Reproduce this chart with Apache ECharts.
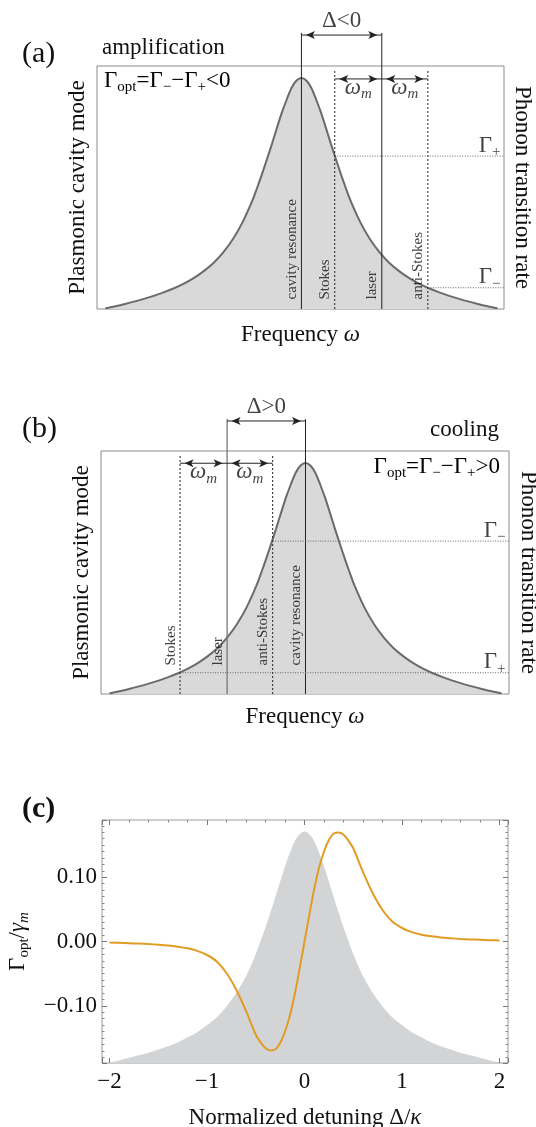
<!DOCTYPE html>
<html>
<head>
<meta charset="utf-8">
<script src="https://cdn.jsdelivr.net/npm/echarts@6/dist/echarts.min.js"></script>
<style>
  html, body { margin: 0; padding: 0; background: #fff; }
  #chart { width: 536px; height: 1127px; }
</style>
</head>
<body>
<div id="chart"></div>
<script>
"use strict";

const FONT = "'Liberation Serif', 'Times New Roman', serif";

// frequency / detuning grid, in units of kappa
const xGrid = [-2, -1.9, -1.8, -1.7, -1.6, -1.5, -1.4, -1.3, -1.2, -1.1, -1, -0.9, -0.8, -0.7, -0.6, -0.5,
  -0.45, -0.4, -0.35, -0.3, -0.25, -0.2, -0.15, -0.1, -0.05, 0, 0.05, 0.1, 0.15, 0.2, 0.25, 0.3, 0.35,
  0.4, 0.45, 0.5, 0.6, 0.7, 0.8, 0.9, 1, 1.1, 1.2, 1.3, 1.4, 1.5, 1.6, 1.7, 1.8, 1.9, 2];

// (a),(b) plasmonic cavity mode, peak = 1
const cavityMode = [0.003, 0.012, 0.022, 0.033, 0.045, 0.058, 0.073, 0.09, 0.11, 0.134, 0.163, 0.198, 0.244,
  0.302, 0.376, 0.47, 0.527, 0.587, 0.651, 0.716, 0.784, 0.85, 0.907, 0.958, 0.989, 1, 0.989, 0.958, 0.907,
  0.85, 0.784, 0.716, 0.651, 0.587, 0.527, 0.47, 0.376, 0.302, 0.244, 0.198, 0.163, 0.134, 0.11, 0.09,
  0.073, 0.058, 0.045, 0.033, 0.022, 0.012, 0.003];

// (c) grey cavity shading and Gamma_opt / gamma_m
const modeShade = [-0.188, -0.185, -0.181, -0.177, -0.173, -0.168, -0.163, -0.157, -0.149, -0.141, -0.13,
  -0.118, -0.101, -0.08, -0.054, -0.02, 0.001, 0.022, 0.045, 0.069, 0.093, 0.117, 0.138, 0.156, 0.167,
  0.171, 0.167, 0.156, 0.138, 0.117, 0.093, 0.069, 0.045, 0.022, 0.001, -0.02, -0.054, -0.08, -0.101,
  -0.118, -0.13, -0.141, -0.149, -0.157, -0.163, -0.168, -0.173, -0.177, -0.181, -0.185, -0.188];
const gammaOpt = [-0.0017, -0.0021, -0.0027, -0.0033, -0.004, -0.005, -0.0062, -0.008, -0.0105, -0.0145,
  -0.021, -0.031, -0.049, -0.075, -0.108, -0.145, -0.157, -0.166, -0.1695, -0.168, -0.158, -0.14, -0.115,
  -0.082, -0.042, 0, 0.042, 0.082, 0.115, 0.14, 0.158, 0.168, 0.1695, 0.166, 0.157, 0.145, 0.108, 0.075,
  0.049, 0.031, 0.021, 0.0145, 0.0105, 0.008, 0.0062, 0.005, 0.004, 0.0033, 0.0027, 0.0021, 0.0017];

// marker lines: cavity resonance, Stokes, laser, anti-Stokes
const markNames = ["cavity resonance", "Stokes", "laser", "anti-Stokes"];
const marksA = [0, 0.34, 0.82, 1.29];
const marksB = [0, -1.28, -0.8, -0.335];
// Gamma_+ (at Stokes) and Gamma_- (at anti-Stokes)
const ratesA = [0.662, 0.092];
const ratesB = [0.092, 0.662];

// (c) tick values
const xTicksC = [-2, -1, 0, 1, 2];
const yTicksC = [-0.1, 0, 0.1];

const rich = {
  n: { fontFamily: FONT, fontSize: 23, lineHeight: 24, color: "#111" },
  s: { fontFamily: FONT, fontSize: 15, lineHeight: 15, padding: [13, 0, 0, 0], color: "#111" },
  i: { fontFamily: FONT, fontSize: 23, lineHeight: 24, fontStyle: "italic", color: "#111" },
  si: { fontFamily: FONT, fontSize: 15, lineHeight: 15, padding: [13, 0, 0, 0], fontStyle: "italic", color: "#111" }
};

function pts(xs, ys) {
  return xs.map((x, i) => [x, ys[i]]);
}

function seg(xi, yi, data, color, width, type) {
  return {
    type: "line", xAxisIndex: xi, yAxisIndex: yi, data: data, symbol: "none", clip: false,
    silent: true, z: 3, lineStyle: { color: color, width: width, type: type || "solid" }
  };
}

function arrow(xi, yi, x1, x2, y) {
  return {
    type: "line", xAxisIndex: xi, yAxisIndex: yi, clip: false, silent: true, z: 4,
    showSymbol: true, symbol: "arrow", symbolSize: [6, 9],
    lineStyle: { color: "#222", width: 1 }, itemStyle: { color: "#222" },
    data: [
      { value: [x1, y], symbolRotate: 90, symbolOffset: [4.5, 0] },
      { value: [x2, y], symbolRotate: -90, symbolOffset: [-4.5, 0] }
    ]
  };
}

function labels(xi, yi, items) {
  return {
    type: "scatter", xAxisIndex: xi, yAxisIndex: yi, symbolSize: 1, clip: false, silent: true, z: 6,
    itemStyle: { color: "rgba(0,0,0,0)" }, data: items
  };
}

// one sketch panel, (a) or (b)
function panel(xi, yl, marks, rates, xMax, lay) {
  let s = [];
  s.push({
    type: "line", xAxisIndex: xi, yAxisIndex: yl, data: pts(xGrid, cavityMode), symbol: "none",
    smooth: 0.3, silent: true, z: 1,
    lineStyle: { color: "#6b6b6b", width: 2 }, areaStyle: { color: "#d9d9d9", opacity: 1 }
  });
  s.push(seg(xi, yl, [[marks[0], 0], [marks[0], lay.top]], "#222", 1));
  s.push(seg(xi, yl, [[marks[2], 0], [marks[2], lay.top]], lay.laserColor, lay.laserWidth));
  s.push(seg(xi, yl, [[marks[1], 0], [marks[1], lay.dashTop]], "#222", 1, [2, 2]));
  s.push(seg(xi, yl, [[marks[3], 0], [marks[3], lay.dashTop]], "#222", 1, [2, 2]));
  s.push(seg(xi, yl, [[marks[1], rates[0]], [xMax, rates[0]]], "#666", 1, [1, 1.5]));
  s.push(seg(xi, yl, [[marks[3], rates[1]], [xMax, rates[1]]], "#666", 1, [1, 1.5]));
  s.push(arrow(xi, yl, Math.min(marks[0], marks[2]), Math.max(marks[0], marks[2]), lay.deltaY));
  let lo = Math.min(marks[1], marks[3]);
  let hi = Math.max(marks[1], marks[3]);
  s.push(arrow(xi, yl, lo, marks[2], lay.omegaY));
  s.push(arrow(xi, yl, marks[2], hi, lay.omegaY));

  let items = markNames.map((name, i) => ({
    value: [marks[i], 0],
    label: {
      show: true, formatter: name, rotate: 90, position: [-1.5, -lay.lift], align: "left",
      verticalAlign: "bottom", fontFamily: FONT, fontSize: 15, color: "#111"
    }
  }));
  items.push({
    value: [(marks[0] + marks[2]) / 2, lay.deltaY],
    label: { show: true, formatter: lay.delta, position: "top", distance: 2, fontFamily: FONT, fontSize: 23, color: "#111" }
  });
  [[lo, marks[2]], [marks[2], hi]].forEach(p => {
    items.push({
      value: [(p[0] + p[1]) / 2, lay.omegaY],
      label: { show: true, formatter: "{i|ω}{si|m}", rich: rich, position: [0.5, -2.5], align: "center", verticalAlign: "top" }
    });
  });
  items.push({
    value: [xMax, rates[0]],
    label: { show: true, formatter: "{n|Γ}{s|+}", rich: rich, position: [-3, 2], align: "right", verticalAlign: "bottom" }
  });
  items.push({
    value: [xMax, rates[1]],
    label: { show: true, formatter: "{n|Γ}{s|−}", rich: rich, position: [-3, 2], align: "right", verticalAlign: "bottom" }
  });
  s.push(labels(xi, yl, items));
  return s;
}

function sketchX(grid, min, max, gap) {
  return {
    gridIndex: grid, type: "value", min: min, max: max,
    axisLine: { show: false, onZero: false }, axisTick: { show: false }, axisLabel: { show: false }, splitLine: { show: false },
    name: "{n|Frequency }{i|ω}", nameLocation: "middle", nameGap: gap, nameTextStyle: { rich: rich }
  };
}

function sketchY(grid, pos, name, rot, gap) {
  return {
    gridIndex: grid, type: "value", position: pos, min: 0, max: 1.052,
    axisLine: { show: false, onZero: false }, axisTick: { show: false }, axisLabel: { show: false }, splitLine: { show: false },
    name: name, nameLocation: "middle", nameRotate: rot, nameGap: gap,
    nameTextStyle: { fontFamily: FONT, fontSize: 23, color: "#111" }
  };
}

function frameAxis(grid, pos, min, max, split, showLabels, fmt) {
  return {
    gridIndex: grid, type: "value", position: pos, min: min, max: max,
    axisLine: { show: false, onZero: false }, splitLine: { show: false },
    axisTick: { show: true, inside: true, length: 5, lineStyle: { color: "#777", width: 1 } },
    minorTick: { show: true, splitNumber: split, length: 2.5, lineStyle: { color: "#888", width: 1 } },
    axisLabel: {
      show: showLabels, showMinLabel: false, showMaxLabel: false, margin: 7,
      fontFamily: FONT, fontSize: 23, color: "#111", formatter: fmt
    }
  };
}

const fmtX = v => xTicksC.indexOf(v) < 0 ? "" : (v < 0 ? "−" : "") + Math.abs(v);
const fmtY = v => yTicksC.indexOf(v) < 0 ? "" : (v < 0 ? "−" : "") + Math.abs(v).toFixed(2);

const xMaxA = 2.067;
const xMaxB = 2.077;

const layA = { top: 1.195, dashTop: 1.035, deltaY: 1.186, omegaY: 0.996, lift: 9, delta: "Δ<0", laserColor: "#222", laserWidth: 1 };
const layB = { top: 1.19, dashTop: 1.035, deltaY: 1.182, omegaY: 0.999, lift: 28, delta: "Δ>0", laserColor: "#777", laserWidth: 1.3 };

const xC = frameAxis(2, "bottom", -2.077, 2.087, 5, true, fmtX);
const xCTop = frameAxis(2, "top", -2.077, 2.087, 5, false, fmtX);
const yC = frameAxis(2, "left", -0.189, 0.189, 10, true, fmtY);
yC.axisLabel.margin = 5;
yC.name = "{n|Γ}{s|opt}{n|/}{i|γ}{si|m}";
yC.nameLocation = "middle";
yC.nameGap = 72;
yC.nameTextStyle = { rich: rich };
const yCRight = frameAxis(2, "right", -0.189, 0.189, 10, false, fmtY);
xC.name = "{n|Normalized detuning Δ/}{i|κ}";
xC.nameLocation = "middle";
xC.nameGap = 43;
xC.nameTextStyle = { rich: rich };

const gridStyle = { show: true, borderColor: "#8a8a8a", borderWidth: 1, backgroundColor: "transparent", containLabel: false, outerBoundsMode: "none" };

const chart = echarts.init(document.getElementById("chart"));

const option = {
  animation: false,
  backgroundColor: "#fff",
  textStyle: { fontFamily: FONT },
  grid: [
    Object.assign({ left: 97, top: 66, width: 407, height: 243 }, gridStyle),
    Object.assign({ left: 101, top: 451, width: 408, height: 243 }, gridStyle),
    Object.assign({ left: 102, top: 820, width: 406, height: 243 }, gridStyle, { borderColor: "#999" })
  ],
  xAxis: [
    sketchX(0, -2.086, xMaxA, 14),
    sketchX(1, -2.087, xMaxB, 11),
    xC, xCTop
  ],
  yAxis: [
    sketchY(0, "left", "Plasmonic cavity mode", 90, 8),
    sketchY(0, "right", "Phonon transition rate", -90, 7),
    sketchY(1, "left", "Plasmonic cavity mode", 90, 8),
    sketchY(1, "right", "Phonon transition rate", -90, 8),
    yC, yCRight
  ],
  graphic: [
    { type: "text", x: 22, y: 54, style: { text: "(a)", fontFamily: FONT, fontSize: 30, fill: "#111", align: "left", verticalAlign: "middle" } },
    { type: "text", x: 102, y: 48, style: { text: "amplification", fontFamily: FONT, fontSize: 23, fill: "#111", align: "left", verticalAlign: "middle" } },
    { type: "text", x: 104, y: 81, style: { text: "{n|Γ}{s|opt}{n|=Γ}{s|−}{n|−Γ}{s|+}{n|<0}", rich: rich, align: "left", verticalAlign: "middle" } },
    { type: "text", x: 22, y: 429, style: { text: "(b)", fontFamily: FONT, fontSize: 30, fill: "#111", align: "left", verticalAlign: "middle" } },
    { type: "text", x: 499, y: 430, style: { text: "cooling", fontFamily: FONT, fontSize: 23, fill: "#111", align: "right", verticalAlign: "middle" } },
    { type: "text", x: 500, y: 467, style: { text: "{n|Γ}{s|opt}{n|=Γ}{s|−}{n|−Γ}{s|+}{n|>0}", rich: rich, align: "right", verticalAlign: "middle" } },
    { type: "text", x: 22, y: 809, style: { text: "(c)", fontFamily: FONT, fontSize: 30, fontWeight: "bold", fill: "#111", align: "left", verticalAlign: "middle" } }
  ],
  series: [].concat(
    panel(0, 0, marksA, ratesA, xMaxA, layA),
    panel(1, 2, marksB, ratesB, xMaxB, layB),
    [
      {
        type: "line", xAxisIndex: 2, yAxisIndex: 4, data: pts(xGrid, modeShade), symbol: "none",
        smooth: 0.3, silent: true, z: 1,
        lineStyle: { width: 0 }, areaStyle: { color: "#d3d4d6", opacity: 1, origin: "start" }
      },
      {
        type: "line", xAxisIndex: 2, yAxisIndex: 4, data: pts(xGrid, gammaOpt), symbol: "none",
        smooth: 0.3, silent: true, z: 2,
        lineStyle: { color: "#e19c24", width: 2 }
      }
    ]
  )
};

chart.setOption(option);
window.onresize = function () {
  chart.resize();
};
</script>
</body>
</html>
